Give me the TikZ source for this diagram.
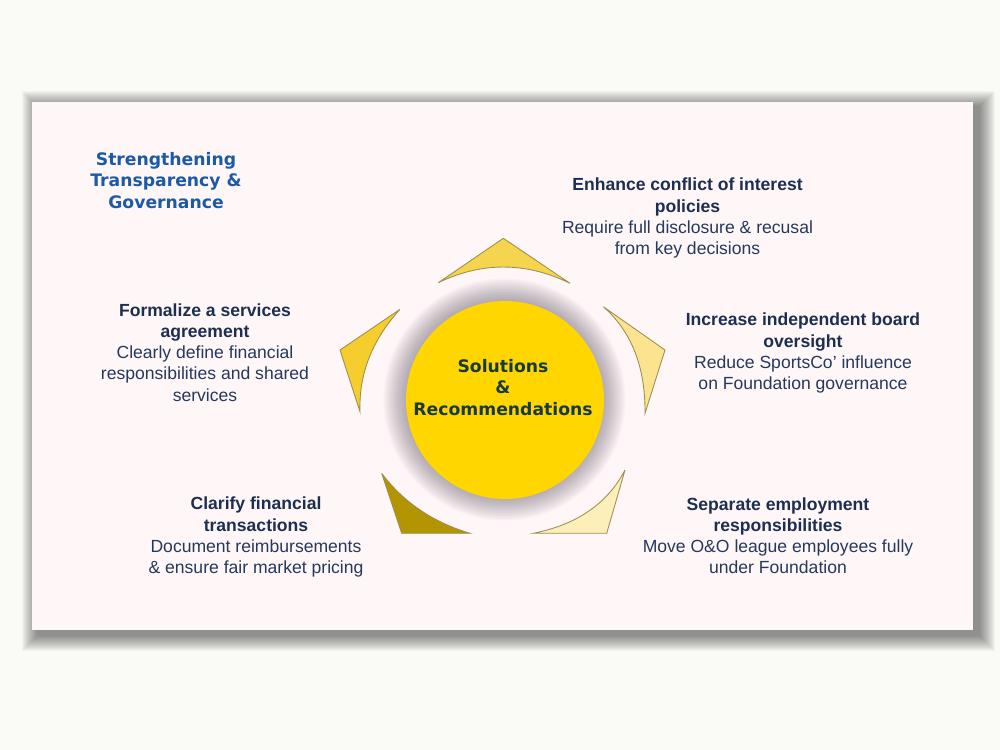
\documentclass[tikz,border=0pt]{standalone}
\usepackage{fontspec}
\setmainfont{Liberation Sans}
\newfontfamily\heavyfont{DejaVu Sans}

\definecolor{pagebg}{HTML}{FAFAF6}
\definecolor{slidebg}{HTML}{FFF6F8}
\definecolor{titleblue}{HTML}{1D5AA6}
\definecolor{headnavy}{HTML}{1C2F50}
\definecolor{bodynavy}{HTML}{24395C}
\definecolor{hubgold}{HTML}{FFD600}
\definecolor{hubtext}{HTML}{183A3E}
\definecolor{halogray}{HTML}{3A3040}
\definecolor{rimline}{HTML}{9E8F52}
\definecolor{petaltop}{HTML}{F5D54E}
\definecolor{petalright}{HTML}{FBE38F}
\definecolor{petallowright}{HTML}{FCEFB9}
\definecolor{petallowleft}{HTML}{B29500}
\definecolor{petalleft}{HTML}{F5CD2C}

\newcommand{\pointhead}[1]{\textcolor{headnavy}{\bfseries #1}}

\begin{document}
\begin{tikzpicture}[x=0.02cm, y=-0.02cm,
    petal/.style={draw=rimline, line width=0.5pt, line join=miter},
    blurb/.style={align=center, inner sep=0pt, text=bodynavy,
      font=\fontsize{10}{12}\selectfont},
    banner/.style={align=center, inner sep=0pt, text=titleblue,
      font=\heavyfont\bfseries\fontsize{9.8}{12.2}\selectfont},
    hub/.style={circle, fill=hubgold, minimum size=3.96cm, inner sep=0pt}]

% page and slide with soft shadow
\fill[pagebg] (0,0) rectangle (1000,750);
\useasboundingbox (0,0) rectangle (1000,750);
\foreach \s in {1,...,16}
  \fill[black, opacity=0.03] (38-\s,107-\s) rectangle (979+\s,635+\s);
\fill[slidebg] (32,102) rectangle (973,630);

% title
\node[banner] (title) at (166,180.5) {Strengthening\\Transparency \&\\Governance};

% the five pieces round the hub
\filldraw[petal, fill=petaltop] (438.3,282.7) -- (503.3,238.3) -- (570,283.3)
  .. controls (525.9,261.8) and (482,261.6) .. (438.3,282.7);
\filldraw[petal, fill=petalright] (603.3,306.7) -- (665,350) -- (645,413.3)
  .. controls (645.5,367.1) and (631.6,331.6) .. (603.3,306.7);
\filldraw[petal, fill=petallowright] (625,470) -- (606.7,533.3) -- (533.3,533.3)
  .. controls (577,524.6) and (607.5,503.5) .. (625,470);
\filldraw[petal, fill=petallowleft] (381.7,473.3) -- (401.7,533.3) -- (470,533.3)
  .. controls (432.8,522.2) and (403.4,502.2) .. (381.7,473.3);
\filldraw[petal, fill=petalleft] (400,309.3) -- (340,350) -- (360,411.7)
  .. controls (358.7,374.2) and (372,340.1) .. (400,309.3);

% hub with its halo
\coordinate (c) at (505,400);
\foreach \r in {100,101.5,...,122}
  \fill[halogray, opacity=0.028] ([xshift=-0.3pt,yshift=0.3pt]c) circle[radius=\r];
\node[hub] (core) at (c) {};
\node[align=center, inner sep=0pt, text=hubtext,
  font=\heavyfont\bfseries\fontsize{9.8}{12}\selectfont] (coretext) at (503,387.5)
  {Solutions\\\&\\Recommendations};

% text blocks
\node[blurb] (conflict) at (687.5,218)
  {\pointhead{Enhance conflict of interest}\\\pointhead{policies}\\
   Require full disclosure \& recusal\\from key decisions};
\node[blurb] (board) at (803,353)
  {\pointhead{Increase independent board}\\\pointhead{oversight}\\
   Reduce SportsCo' influence\\on Foundation governance};
\node[blurb] (staff) at (778,536)
  {\pointhead{Separate employment}\\\pointhead{responsibilities}\\
   Move O\&O league employees fully\\under Foundation};
\node[blurb] (money) at (256,537)
  {\pointhead{Clarify financial}\\\pointhead{transactions}\\
   Document reimbursements\\\& ensure fair market pricing};
\node[blurb] (services) at (205,352.6)
  {\pointhead{Formalize a services}\\\pointhead{agreement}\\
   Clearly define financial\\responsibilities and shared\\services};

\end{tikzpicture}
\end{document}
